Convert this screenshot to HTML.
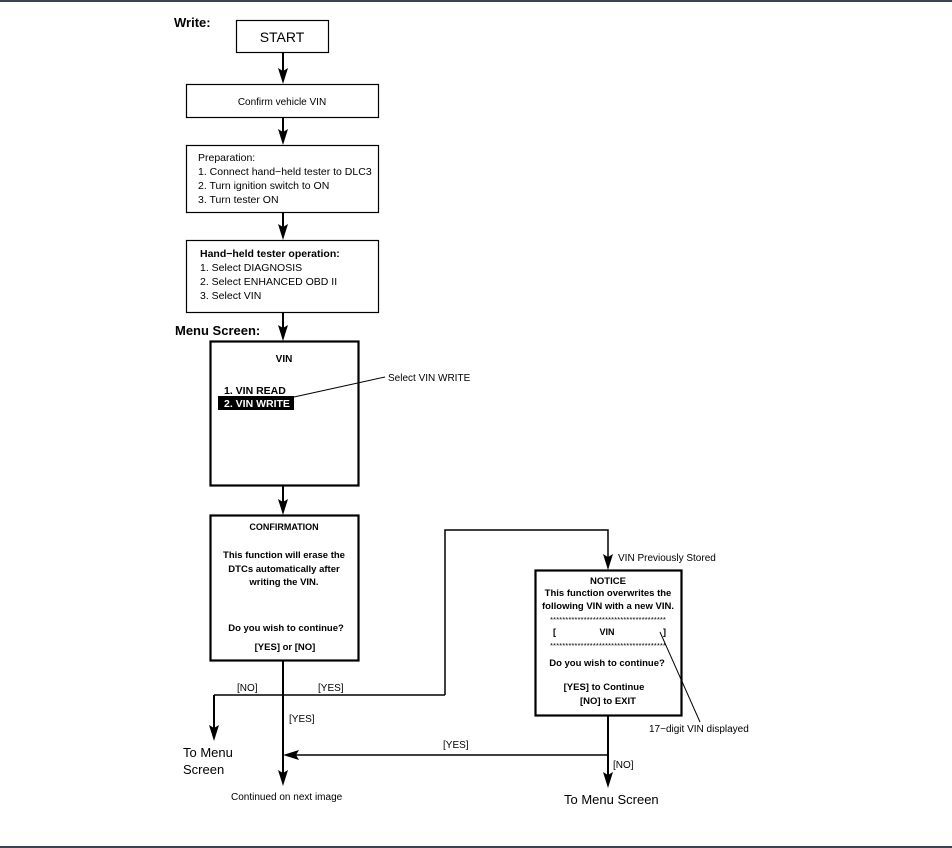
<!DOCTYPE html>
<html><head><meta charset="utf-8"><style>
html,body{margin:0;padding:0;background:#fff;}
svg{display:block;font-family:"Liberation Sans",Arial,sans-serif;}
</style></head><body>
<svg width="952" height="848" viewBox="0 0 952 848" xmlns="http://www.w3.org/2000/svg">
<rect x="0" y="0" width="952" height="2" fill="#3a4450"/>
<rect x="0" y="846" width="952" height="2" fill="#3a4450"/>
<g fill="none" stroke="#000">
<rect x="236.5" y="20.5" width="92" height="32" stroke-width="1.2"/>
<rect x="186.5" y="84.5" width="192" height="33" stroke-width="1.2"/>
<rect x="186.5" y="145.5" width="192" height="67" stroke-width="1.2"/>
<rect x="186.5" y="240.5" width="192" height="72" stroke-width="1.2"/>
<rect x="210.5" y="341.5" width="148" height="144" stroke-width="2.2"/>
<rect x="210.5" y="515.5" width="148" height="145" stroke-width="2.2"/>
<rect x="535.5" y="570.5" width="146" height="145" stroke-width="2.2"/>
<g stroke-width="2">
<line x1="283" y1="52" x2="283" y2="80"/>
<line x1="283" y1="118" x2="283" y2="141"/>
<line x1="283" y1="213" x2="283" y2="236"/>
<line x1="283" y1="313" x2="283" y2="337"/>
<line x1="283" y1="486" x2="283" y2="511"/>
<line x1="283" y1="661" x2="283" y2="782"/>
<line x1="214" y1="695" x2="214" y2="737"/>
<line x1="608" y1="716" x2="608" y2="784"/>
</g>
<line x1="214" y1="695" x2="445" y2="695" stroke-width="1.5"/>
<polyline points="445,695 445,530 608,530 608,566" stroke-width="1.5"/>
<line x1="608" y1="755" x2="290" y2="755" stroke-width="1.5"/>
<line x1="294" y1="397" x2="385" y2="377" stroke-width="1"/>
<line x1="660" y1="632" x2="700" y2="722" stroke-width="1"/>
</g>
<g fill="#000">
<path d="M278,68 L283,71 L288,68 L283,84 Z"/>
<path d="M278,129 L283,132 L288,129 L283,145 Z"/>
<path d="M278,224 L283,227 L288,224 L283,240 Z"/>
<path d="M278,325 L283,328 L288,325 L283,341 Z"/>
<path d="M278,499 L283,502 L288,499 L283,515 Z"/>
<path d="M278,770 L283,773 L288,770 L283,786 Z"/>
<path d="M209,725 L214,728 L219,725 L214,741 Z"/>
<path d="M603,554 L608,557 L613,554 L608,570 Z"/>
<path d="M603,772 L608,775 L613,772 L608,788 Z"/>
<path d="M299,750 L296,755 L299,760 L283,755 Z"/>
</g>
<g font-size="11" fill="#000">
<text x="174" y="27" font-weight="bold" font-size="13">Write:</text>
<text x="282" y="42" text-anchor="middle" font-size="14">START</text>
<text x="282" y="105" text-anchor="middle" font-size="10">Confirm vehicle VIN</text>
<text x="198" y="161" font-size="10.5">Preparation:</text>
<text x="198" y="175" font-size="10.5">1. Connect hand−held tester to DLC3</text>
<text x="198" y="189" font-size="10.5">2. Turn ignition switch to ON</text>
<text x="198" y="203" font-size="10.5">3. Turn tester ON</text>
<text x="200" y="257" font-size="10.5" font-weight="bold">Hand−held tester operation:</text>
<text x="200" y="271" font-size="10.5">1. Select DIAGNOSIS</text>
<text x="200" y="285" font-size="10.5">2. Select ENHANCED OBD II</text>
<text x="200" y="299" font-size="10.5">3. Select VIN</text>
<text x="175" y="335" font-weight="bold" font-size="13">Menu Screen:</text>
<text x="284" y="362" text-anchor="middle" font-weight="bold" font-size="10">VIN</text>
<text x="224" y="394" font-weight="bold" font-size="10.5">1. VIN READ</text>
<rect x="218" y="396" width="76" height="14" fill="#000"/>
<text x="224" y="407" font-weight="bold" font-size="10.5" fill="#fff">2. VIN WRITE</text>
<text x="388" y="381" font-size="10">Select VIN WRITE</text>
<g font-weight="bold" font-size="9.5" text-anchor="middle">
<text x="284" y="530" font-size="9">CONFIRMATION</text>
<text x="284" y="558">This function will erase the</text>
<text x="284" y="572">DTCs automatically after</text>
<text x="284" y="585">writing the VIN.</text>
<text x="286" y="631">Do you wish to continue?</text>
<text x="285" y="650">[YES] or [NO]</text>
<text x="608" y="584">NOTICE</text>
<text x="608" y="596">This function overwrites the</text>
<text x="608" y="609">following VIN with a new VIN.</text>
<text x="607" y="635" font-size="9">VIN</text>
<text x="607" y="666">Do you wish to continue?</text>
<text x="604" y="690">[YES] to Continue</text>
<text x="608" y="704">[NO] to EXIT</text>
</g>
<text x="550" y="622" font-size="7" textLength="116" lengthAdjust="spacingAndGlyphs">**************************************</text>
<text x="550" y="648" font-size="7" textLength="116" lengthAdjust="spacingAndGlyphs">**************************************</text>
<text x="553" y="635" font-weight="bold" font-size="9">[</text>
<text x="663" y="635" font-weight="bold" font-size="9">]</text>
<text x="618" y="561" font-size="10">VIN Previously Stored</text>
<text x="649" y="732" font-size="10">17−digit VIN displayed</text>
<text x="237" y="691" font-size="10">[NO]</text>
<text x="318" y="691" font-size="10">[YES]</text>
<text x="289" y="722" font-size="10">[YES]</text>
<text x="443" y="748" font-size="10">[YES]</text>
<text x="613" y="768" font-size="10">[NO]</text>
<text x="183" y="757" font-size="13">To Menu</text>
<text x="183" y="774" font-size="13">Screen</text>
<text x="231" y="800" font-size="10">Continued on next  image</text>
<text x="564" y="804" font-size="13">To Menu Screen</text>
</g>
</svg>
</body></html>
